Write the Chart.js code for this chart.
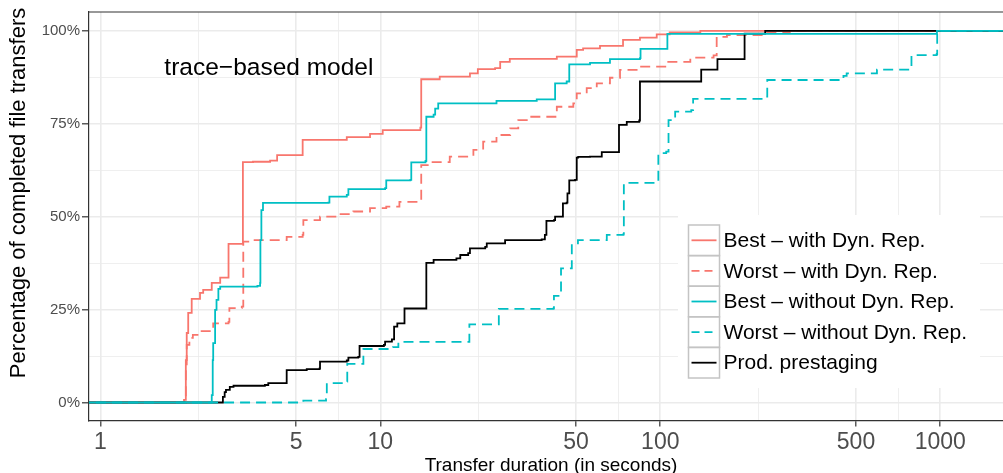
<!DOCTYPE html>
<html>
<head>
<meta charset="utf-8">
<script src="https://cdn.jsdelivr.net/npm/chart.js@4.4.1/dist/chart.umd.min.js"></script>
<style>
	html, body { margin: 0; padding: 0; background: #fff; }
	canvas { display: block; }
</style>
</head>
<body>
<canvas id="ecdfChart" width="1003" height="473"></canvas>
<script>
// ECDF of transfer durations (seconds) -> percentage of completed transfers
const bestWithDur = [0.5, 1.99, 2.02, 2.035, 2.06, 2.12, 2.27, 2.33, 2.5, 2.68, 2.87, 3.23, 3.51, 4.04, 4.28, 5.28, 7.59, 9.19, 10.2, 13.9, 14.0, 16.3, 20.9, 22.3, 25.7, 26.8, 29.0, 42.7, 50.3, 53.0, 60.9, 73.6, 84.6, 97.1, 108, 139, 2000];
const bestWithPct = [0, 0.7, 11.4, 18.7, 24.1, 27.9, 29.5, 30.3, 32.2, 33.6, 42.7, 64.7, 64.8, 65.1, 66.6, 70.7, 71.4, 72.3, 73.3, 74.0, 87.0, 87.7, 88.6, 89.7, 90.0, 91.7, 92.5, 93.1, 94.9, 95.3, 96.0, 97.6, 98.2, 99.1, 99.6, 100, 100];

const worstWithDur = [0.5, 2.02, 2.035, 2.08, 2.14, 2.27, 2.53, 2.87, 2.89, 3.2, 3.24, 3.42, 4.63, 5.28, 5.31, 6.09, 6.99, 8.01, 9.19, 10.5, 11.7, 13.7, 14.0, 15.0, 17.7, 21.5, 23.3, 26.0, 29.1, 31.1, 34.2, 42.7, 48.9, 50.3, 54.6, 59.3, 66.1, 71.8, 84.6, 105, 128, 155, 159, 173, 233, 290, 2000];
const worstWithPct = [0, 8.7, 15.5, 17.4, 18.2, 19.2, 21.3, 21.7, 25.4, 25.8, 43.3, 43.7, 44.6, 45.1, 49.1, 50.0, 50.7, 51.4, 52.3, 52.7, 54.0, 54.5, 63.9, 64.7, 66.2, 68.0, 70.2, 72.0, 73.8, 76.0, 76.9, 79.6, 80.5, 83.2, 84.6, 85.9, 87.4, 89.5, 90.4, 91.7, 92.8, 93.4, 98.4, 98.9, 99.5, 100, 100];

const bestWithoutDur = [0.5, 2.5, 2.52, 2.53, 2.57, 2.6, 2.64, 2.68, 3.64, 3.72, 3.73, 3.76, 3.81, 6.52, 6.58, 7.59, 7.69, 10.4, 10.5, 12.8, 12.9, 14.5, 14.6, 15.5, 15.7, 16.1, 26.0, 36.2, 42.1, 46.3, 47.3, 56.1, 66.1, 84.6, 85.0, 105, 106, 971, 973, 2000];
const bestWithoutPct = [0, 2.0, 11.4, 16.0, 24.9, 27.6, 30.6, 31.2, 31.4, 32.2, 43.7, 51.8, 53.7, 53.8, 55.4, 55.9, 57.4, 57.7, 59.8, 59.9, 64.6, 65.0, 76.9, 77.5, 79.1, 80.5, 81.2, 81.6, 85.9, 86.4, 91.0, 91.4, 92.4, 92.7, 95.2, 95.2, 99.2, 99.3, 100, 100];

const worstWithoutDur = [0.5, 5.31, 6.4, 6.44, 7.54, 7.62, 8.7, 11.1, 11.6, 20.8, 26.5, 41.6, 41.7, 43.8, 44.2, 47.8, 48.3, 50.8, 64.4, 73.9, 74.1, 97.1, 98.4, 105, 107, 113, 129, 131, 233, 241, 451, 463, 594, 780, 789, 971, 975, 2000];
const worstWithoutPct = [0, 0.5, 0.9, 5.2, 5.6, 10.4, 14.4, 14.9, 16.3, 21.0, 25.2, 25.4, 28.7, 28.8, 36.1, 36.1, 42.8, 43.7, 45.1, 45.4, 59.1, 59.6, 67.1, 67.5, 76.0, 78.3, 78.7, 81.7, 82.3, 86.8, 87.9, 88.6, 89.6, 90.0, 93.5, 93.8, 100, 100];

const prodDur = [0.5, 2.74, 2.78, 2.81, 2.9, 2.99, 3.87, 3.98, 4.63, 5.46, 6.07, 6.09, 7.59, 7.69, 8.34, 8.43, 10.3, 10.4, 11.0, 11.2, 11.5, 12.2, 14.6, 15.5, 18.7, 19.3, 20.6, 20.9, 23.7, 24.0, 27.9, 37.7, 38.7, 39.2, 41.7, 42.1, 44.9, 46.3, 46.6, 47.3, 49.6, 50.3, 50.9, 56.1, 61.8, 71.2, 75.9, 84.1, 84.6, 140, 160, 200, 237, 2000];
const prodPct = [0, 1.5, 2.8, 3.4, 4.2, 4.5, 4.7, 5.2, 8.7, 9.0, 9.2, 11.0, 11.3, 12.1, 12.3, 15.2, 15.5, 16.4, 17.0, 20.4, 21.3, 25.3, 37.6, 38.4, 38.8, 39.7, 40.2, 41.5, 41.9, 42.8, 43.7, 43.9, 45.1, 48.9, 49.1, 50.0, 53.6, 53.8, 56.3, 59.8, 59.9, 65.9, 66.1, 66.2, 67.4, 74.7, 75.5, 75.9, 86.4, 89.6, 92.4, 99.3, 100, 100];

const seriesLabels = ['Best – with Dyn. Rep.', 'Worst – with Dyn. Rep.', 'Best – without Dyn. Rep.', 'Worst – without Dyn. Rep.', 'Prod. prestaging'];

// axis breaks (log10 x axis, ggplot style minor breaks between majors)
const xMajor = [1, 5, 10, 50, 100, 500, 1000];
const xMinor = [2.236, 7.071, 22.36, 70.71, 223.6, 707.1];
const yMajor = [0, 25, 50, 75, 100];
const yMinor = [12.5, 37.5, 62.5, 87.5];

const FONT = "'Liberation Sans', Arial, Helvetica, sans-serif";
const RED = '#F8766D';
const CYAN = '#00BFC4';
const DASH = [10, 6];

Chart.defaults.font.family = FONT;

const toPoints = (xs, ys) => xs.map((x, i) => ({ x, y: ys[i] }));

const stepDataset = (label, xs, ys, color, dashed, order) => ({
	label,
	data: toPoints(xs, ys),
	borderColor: color,
	borderWidth: 1.8,
	borderDash: dashed ? DASH : [],
	stepped: 'before',
	pointRadius: 0,
	fill: false,
	order,
});

const datasets = [
	stepDataset(seriesLabels[0], bestWithDur, bestWithPct, RED, false, 4),
	stepDataset(seriesLabels[1], worstWithDur, worstWithPct, RED, true, 5),
	stepDataset(seriesLabels[2], bestWithoutDur, bestWithoutPct, CYAN, false, 1),
	stepDataset(seriesLabels[3], worstWithoutDur, worstWithoutPct, CYAN, true, 2),
	stepDataset(seriesLabels[4], prodDur, prodPct, '#000000', false, 3),
];

const isMajor = (list, v) => list.some((m) => Math.abs(m - v) < 1e-9);

// titles, annotation, panel border and the boxed legend
const decorPlugin = {
	id: 'decor',
	afterDraw(chart) {
		const { ctx, chartArea, scales } = chart;
		ctx.save();

		ctx.strokeStyle = '#333333';
		ctx.lineWidth = 1.2;
		ctx.beginPath();
		ctx.moveTo(chartArea.left, chartArea.top);
		ctx.lineTo(chartArea.right, chartArea.top);
		ctx.stroke();

		ctx.fillStyle = '#000000';
		ctx.font = '24.5px ' + FONT;
		ctx.textAlign = 'center';
		ctx.textBaseline = 'middle';
		ctx.fillText('trace−based model', scales.x.getPixelForValue(4), scales.y.getPixelForValue(90));

		ctx.font = '19px ' + FONT;
		ctx.textBaseline = 'alphabetic';
		ctx.fillText('Transfer duration (in seconds)', (chartArea.left + chartArea.right) / 2 + 5, 470.5);

		ctx.save();
		ctx.translate(25, 193);
		ctx.rotate(-Math.PI / 2);
		ctx.font = '22px ' + FONT;
		ctx.fillText('Percentage of completed file transfers', 0, 0);
		ctx.restore();

		// legend
		const lx = 688.5;
		const ly = 225;
		const rowH = 30.6;
		const keyW = 31;
		ctx.fillStyle = '#ffffff';
		ctx.fillRect(678, 215, 302, 173);
		chart.data.datasets.forEach((ds, i) => {
			const y0 = ly + i * rowH;
			ctx.strokeStyle = '#C4C4C4';
			ctx.lineWidth = 1.5;
			ctx.setLineDash([]);
			ctx.strokeRect(lx, y0, keyW, rowH);
			ctx.strokeStyle = ds.borderColor;
			ctx.lineWidth = 1.8;
			ctx.setLineDash(ds.borderDash.length ? [8, 5] : []);
			ctx.beginPath();
			ctx.moveTo(lx + 3, y0 + rowH / 2);
			ctx.lineTo(lx + keyW - 3, y0 + rowH / 2);
			ctx.stroke();
			ctx.setLineDash([]);
			ctx.fillStyle = '#000000';
			ctx.font = '21px ' + FONT;
			ctx.textAlign = 'left';
			ctx.textBaseline = 'middle';
			ctx.fillText(ds.label, lx + keyW + 4, y0 + rowH / 2 + 1);
		});

		ctx.restore();
	},
};

new Chart(document.getElementById('ecdfChart'), {
	type: 'line',
	data: { datasets },
	options: {
		responsive: false,
		animation: false,
		devicePixelRatio: 1,
		layout: { padding: { top: 12, right: 0, bottom: 0, left: 0 } },
		plugins: {
			legend: { display: false },
			tooltip: { enabled: false },
		},
		scales: {
			x: {
				type: 'logarithmic',
				min: 0.911,
				max: 1675,
				afterBuildTicks: (scale) => {
					scale.ticks = [...xMajor, ...xMinor].sort((a, b) => a - b).map((v) => ({ value: v }));
				},
				afterFit: (scale) => {
					scale.height = 52.5;
				},
				ticks: {
					autoSkip: false,
					maxRotation: 0,
					padding: 2,
					color: '#4D4D4D',
					font: { size: 23 },
					callback: (value) => (isMajor(xMajor, value) ? String(value) : ''),
				},
				grid: {
					color: '#EBEBEB',
					lineWidth: (c) => (c.tick && isMajor(xMajor, c.tick.value) ? 1.6 : 0.8),
					tickLength: 6,
					tickWidth: 1.2,
					tickColor: (c) => (c.tick && isMajor(xMajor, c.tick.value) ? '#333333' : 'rgba(0,0,0,0)'),
				},
				border: { color: '#333333', width: 1.2 },
			},
			y: {
				min: -4.85,
				max: 105.1,
				afterBuildTicks: (scale) => {
					scale.ticks = [...yMajor, ...yMinor].sort((a, b) => a - b).map((v) => ({ value: v }));
				},
				afterFit: (scale) => {
					scale.width = 89;
				},
				ticks: {
					autoSkip: false,
					padding: 2,
					color: '#4D4D4D',
					font: { size: 15 },
					callback: (value) => (isMajor(yMajor, value) ? value + '%' : ''),
				},
				grid: {
					color: '#EBEBEB',
					lineWidth: (c) => (c.tick && isMajor(yMajor, c.tick.value) ? 1.6 : 0.8),
					tickLength: 7,
					tickWidth: 1.2,
					tickColor: (c) => (c.tick && isMajor(yMajor, c.tick.value) ? '#333333' : 'rgba(0,0,0,0)'),
				},
				border: { color: '#333333', width: 1.2 },
			},
		},
	},
	plugins: [decorPlugin],
});
</script>
</body>
</html>
